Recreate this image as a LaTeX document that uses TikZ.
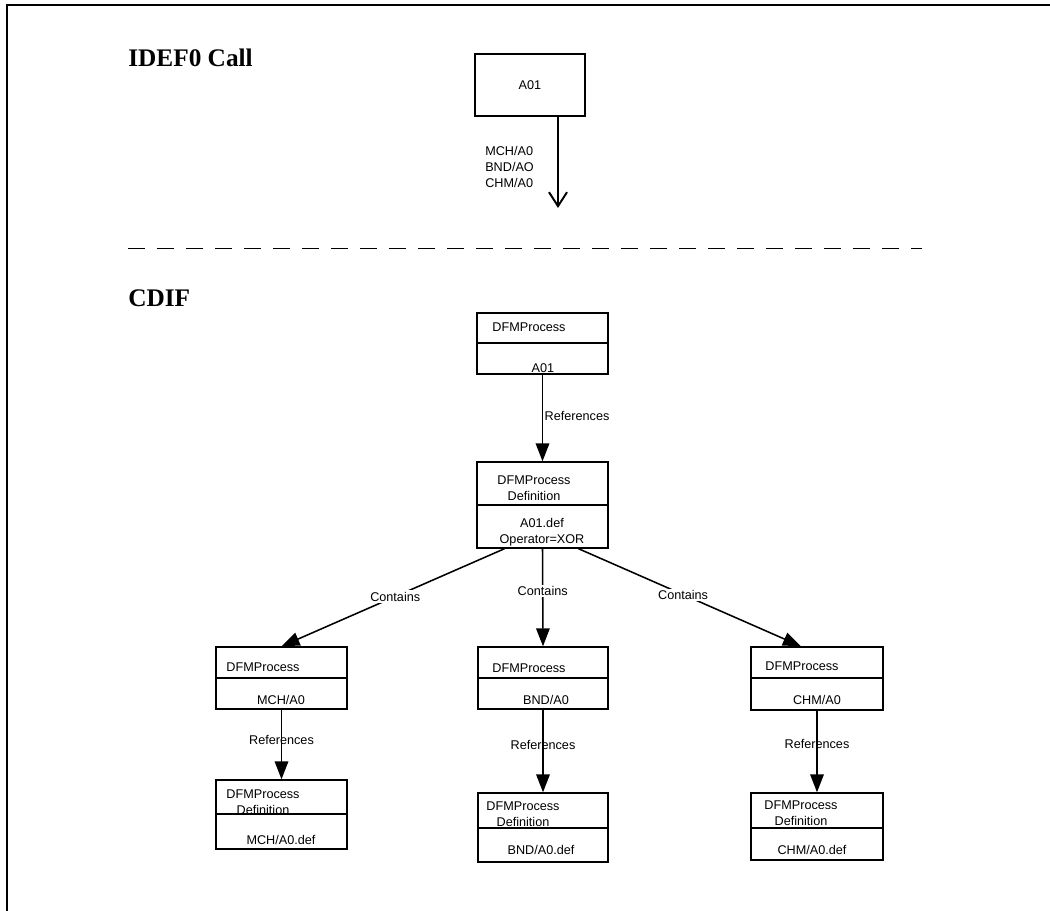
\documentclass[tikz,border=0pt]{standalone}
\usepackage{fontspec}
\setmainfont{Liberation Serif}
\newfontfamily\diagfont{Liberation Sans}
\usetikzlibrary{arrows.meta,fit}

\tikzset{
	lbl/.style={font=\diagfont\fontsize{9pt}{11.3pt}\selectfont, inner sep=1pt, align=center},
	title/.style={font=\bfseries\fontsize{18pt}{20pt}\selectfont, anchor=base west, inner sep=0},
	entity/.style={draw, line width=1pt, inner sep=0},
	rel/.style={line width=1.1pt, -{Triangle[length=4.5mm,width=3.4mm]}}
}

\begin{document}
\begin{tikzpicture}[x=0.025cm, y=-0.025cm]
		\useasboundingbox (0,0) rectangle (1050,911);
		
		% Frame
		\draw[line width=1.2pt] (1050,5) -- (7,5) -- (7,911);
		
		% Titles
		\node[title] (idef) at (128,67) {IDEF0 Call};
		\node[title] (cdif) at (128,307) {CDIF};
		
		% IDEF0 call
		\node[entity, fit={(475,54) (585,116)}] (call) {};
		\node[lbl] (calltxt) at (call.center) {A01};
		\coordinate (callend) at (558,208);
		\draw[line width=1.1pt, -{Straight Barb[length=3.5mm,width=4.5mm,line width=1.4pt]}] (call.south -| callend) -- (callend);
		\node[lbl, align=left, anchor=west, inner sep=0] (calls) at (485,167) {MCH/A0\\BND/AO\\CHM/A0};
		
		% Separator
		\draw[dash pattern=on 4.25mm off 3mm, line width=0.6pt] (128,248) -- (922,248);
		
		% CDIF boxes: name/left/top/right/bottom/divider
		\foreach \bx/\xa/\ya/\xb/\yb/\yd in {p0/477/313/608/374/343, d0/477/462/608/548/505,
			mch/216/647/347/709/678, bnd/478/647/608/709/678, chm/751/647/883/710/678,
			mchdef/216/780/347/849/814, bnddef/478/793/608/862/828, chmdef/751/793/883/860/828}
		{
			\node[entity, fit={(\xa,\ya) (\xb,\yb)}] (\bx) {};
			\draw[line width=0.8pt] (\xa,\yd) -- (\xb,\yd);
		}
		
		% Box texts: name/x/y/text
		\foreach \tn/\tx/\ty/\tt in {p0h/529/327/DFMProcess, p0v/543/368/A01,
			d0h/534/488/{DFMProcess\\Definition}, d0v/542/532.5/{A01.def\\Operator=XOR},
			mchh/263/667/DFMProcess, mchv/281/700/{MCH/A0},
			bndh/529/668/DFMProcess, bndv/546/700/{BND/A0},
			chmh/802/666/DFMProcess, chmv/817/700/{CHM/A0},
			mchdefh/263/802/{DFMProcess\\Definition}, mchdefv/281/840/{MCH/A0.def},
			bnddefh/523/814/{DFMProcess\\Definition}, bnddefv/541/850/{BND/A0.def},
			chmdefh/801/813.5/{DFMProcess\\Definition}, chmdefv/812/850/{CHM/A0.def}}
		\node[lbl] (\tn) at (\tx,\ty) {\tt};
		
		% Relations
		\draw[rel] (p0.south) -- node[lbl, right, pos=0.48] (r0) {References} (d0.north);
		\draw[rel] ([xshift=-0.95cm]d0.south) -- node[lbl, fill=white, pos=0.49] (c1) {Contains} (mch.north);
		\draw[rel] (d0.south) -- node[lbl, fill=white, pos=0.43] (c2) {Contains} (bnd.north);
		\draw[rel] ([xshift=0.9cm]d0.south) -- node[lbl, fill=white, pos=0.47] (c3) {Contains} ([xshift=-0.4cm]chm.north);
		\draw[rel] (mch.south) -- node[lbl, pos=0.44] (r1) {References} (mchdef.north);
		\draw[rel] (bnd.south) -- node[lbl, pos=0.43] (r2) {References} (bnddef.north);
		\draw[rel] (chm.south) -- node[lbl, pos=0.41] (r3) {References} (chmdef.north);
	\end{tikzpicture}
\end{document}
